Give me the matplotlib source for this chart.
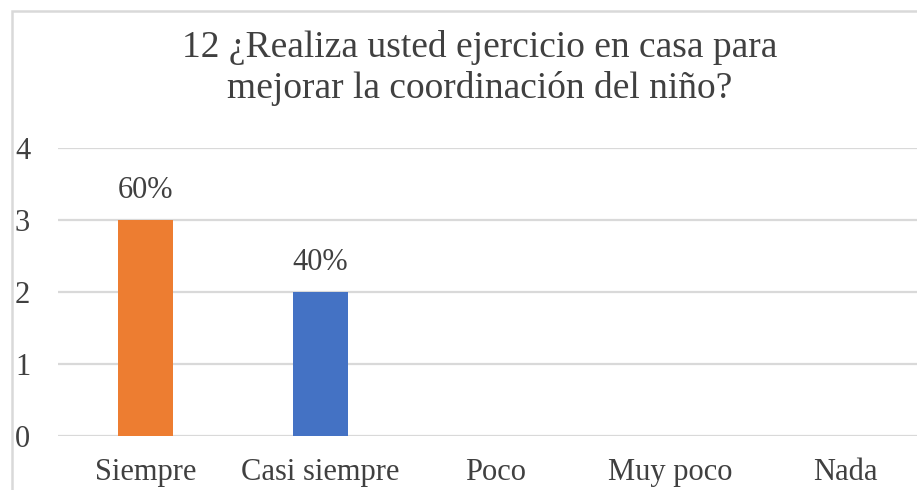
import matplotlib
matplotlib.use("Agg")
import matplotlib.pyplot as plt
from matplotlib.patches import Rectangle

categories = ["Siempre", "Casi siempre", "Poco", "Muy poco", "Nada"]
values = [3, 2, 0, 0, 0]
labels = ["60%", "40%", "", "", ""]
colors = ["#ED7D31", "#4472C4", "#A5A5A5", "#FFC000", "#5B9BD5"]
yticks = [0, 1, 2, 3, 4]
title = "12 ¿Realiza usted ejercicio en casa para\nmejorar la coordinación del niño?"

plt.rcParams['font.family'] = ['Liberation Serif', 'DejaVu Serif']
W, H = 917, 490
fig = plt.figure(figsize=(W/100, H/100), dpi=100)
fig.patch.set_facecolor('white')

left = 58 / W
right = 932.5 / W
bottom = (H - 436) / H
top = (H - 148) / H
ax = fig.add_axes([left, bottom, right - left, top - bottom])

x = list(range(len(categories)))
bars = ax.bar(x, values, width=0.314, color=colors, zorder=3)
for b, lab, v in zip(bars, labels, values):
    if lab:
        ax.annotate(lab, (b.get_x() + b.get_width()/2, v), xytext=(0, 11),
                    textcoords='offset points', ha='center', va='bottom',
                    fontsize=22, color='#404040')

ax.set_xlim(-0.5, len(categories) - 0.5)
ax.set_ylim(0, 4)
ax.set_yticks(yticks)
ax.set_xticks(x)
ax.set_xticklabels(categories)
ax.tick_params(axis='both', length=0, labelsize=22, colors='#404040')
ax.tick_params(axis='y', pad=20)
ax.tick_params(axis='x', pad=16)
ax.grid(axis='y', color='#D9D9D9', linewidth=1.6, zorder=0)
for s in ax.spines.values():
    s.set_visible(False)
ax.set_facecolor('none')

fig.text(480 / W, 1 - 68 / H, title, ha='center', va='center', fontsize=27,
         color='#404040', linespacing=1.22)

fig.patches.append(Rectangle((11.5 / W, -0.5), 2, 1.5 - 11.5 / H,
                             transform=fig.transFigure, fill=False,
                             edgecolor='#D9D9D9', linewidth=1.8))

fig.savefig('out.png', dpi=100, facecolor='white')
